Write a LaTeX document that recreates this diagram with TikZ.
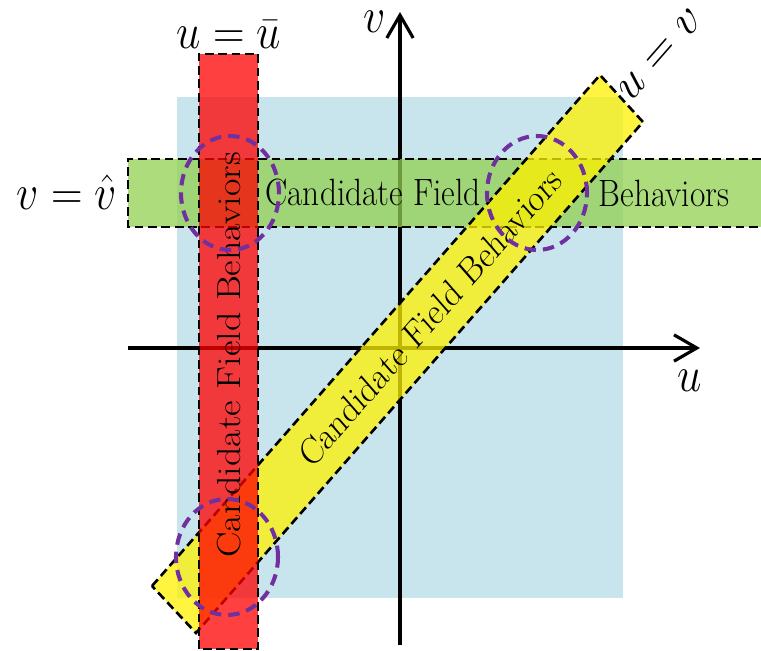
\documentclass[tikz,border=0pt]{standalone}
\usepackage{amsmath}
\usepackage{amssymb}
\usepackage{tikz}
\usepackage{xcolor}
\usetikzlibrary{arrows.meta}

\definecolor{regionblue}{RGB}{200,228,236}
\definecolor{bandgreen}{RGB}{146,208,80}
\definecolor{ringpurple}{RGB}{112,48,160}

\begin{document}
\begin{tikzpicture}[x=0.02cm, y=0.02cm,
  axis/.style={line width=1.8pt, -{Straight Barb[length=13pt,width=15pt,line width=1.8pt]}},
  band/.style={draw=black, line width=1.5pt, dash pattern=on 5pt off 2.6pt, fill opacity=0.75},
  ring/.style={draw=ringpurple, line width=2.3pt, dash pattern=on 6.5pt off 4pt},
  lbl/.style={font=\fontsize{19}{22}\selectfont, inner sep=0pt, yscale=1.14},
  eqn/.style={font=\fontsize{26}{30}\selectfont, inner sep=0pt, yscale=1.14}]
  \useasboundingbox (-400,-303) rectangle (361,348);

  % Region behind everything
  \fill[regionblue] (-223,-250) rectangle (223,251);

  % Axes
  \draw[axis] (-272,0) -- (300,0);
  \draw[axis] (0,-297) -- (0,336);
  \node[eqn] (ulbl) at (290,-33) {$u$};
  \node[eqn] (vlbl) at (-25,326) {$v$};

  % Three candidate bands
  \path[band, fill=bandgreen] (361,189) -| (-272,121) -- (361,121);
  \path[band, fill=yellow] (-248,-238) -- (200,273) -- (243,226) -- (-204,-285) -- cycle;
  \path[band, fill=red] (-201,-301) rectangle (-142,294);

  % Band equations
  \node[eqn] (ubar) at (-171,313) {$u=\bar{u}$};
  \node[eqn] (vhat) at (-333,156) {$v=\hat{v}$};
  \node[eqn, rotate=45] (diag) at (260,293) {$u=v$};

  % Band texts
  \node[lbl] (fieldtxt) at (-27,155) {Candidate Field};
  \node[lbl] (behavtxt) at (264,155) {Behaviors};
  \node[lbl, rotate=90] (redtxt) at (-171,-7) {Candidate Field Behaviors};
  \node[lbl, rotate=45] (yellowtxt) at (30,31) {Candidate Field Behaviors};

  % Intersections
  \draw[ring] (-170,155) ellipse (49 and 57);
  \draw[ring] (137,155) ellipse (50 and 57);
  \draw[ring] (-173,-209) ellipse (51 and 58);
\end{tikzpicture}
\end{document}
